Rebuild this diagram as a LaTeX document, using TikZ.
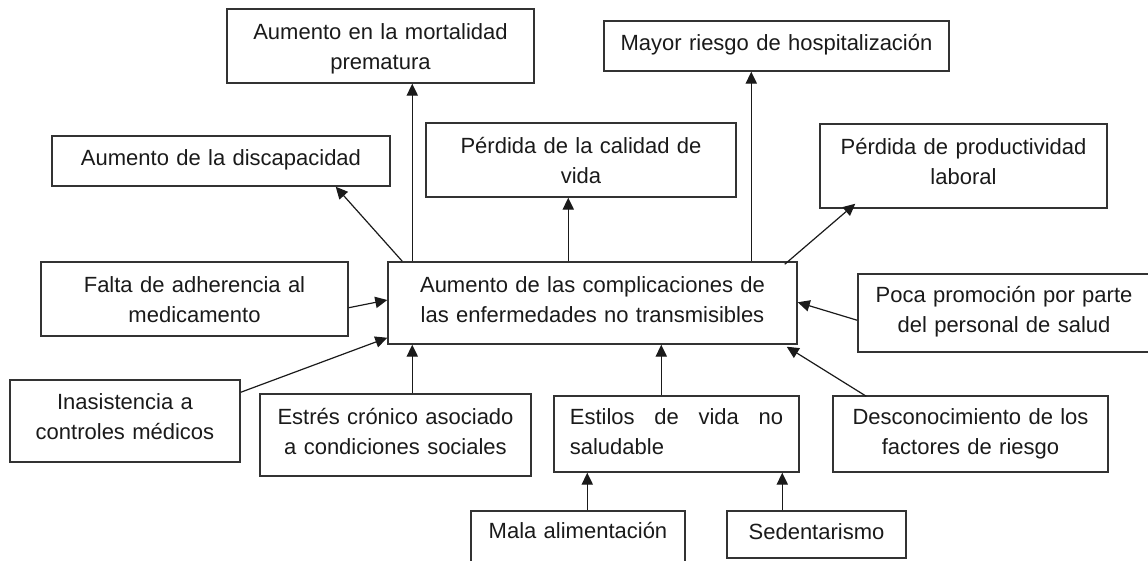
\documentclass[tikz,border=0pt]{standalone}
\usepackage{fontspec}
\setmainfont{Liberation Sans}
\usetikzlibrary{arrows.meta,calc}
\definecolor{ink}{HTML}{1A1A1A}
\definecolor{edge}{HTML}{333333}
\tikzset{
  box/.style={draw=edge, line width=1.1pt, inner sep=0pt, align=center,
    text=ink, font=\fontsize{16.5}{22.5}\selectfont},
  one/.style={text height=12pt, text depth=5pt},
  two/.style={text height=12pt, text depth=#1},
  two/.default=27.5pt,
  arr/.style={draw=ink, line width=0.9pt, -{Triangle[length=9pt,width=8.5pt]}}
}
\begin{document}
\begin{tikzpicture}[x=0.75pt,y=-0.75pt]
\useasboundingbox (0,0) rectangle (1148,560);
% effects
\node[box, two=22pt, text width=225pt, minimum width=230.25pt, minimum height=55.5pt] (mort) at (380.5,46) {Aumento en la mortalidad\\prematura};
\node[box, one, text width=249pt, minimum width=253.5pt, minimum height=37.5pt] (disc) at (221,161) {Aumento de la discapacidad};
\node[box, two=22pt, text width=228pt, minimum width=232.5pt, minimum height=55.5pt] (cal) at (581,160) {Pérdida de la calidad de\\vida};
\node[box, one, text width=254pt, minimum width=258.75pt, minimum height=37.5pt] (hosp) at (776.5,46) {Mayor riesgo de hospitalización};
\node[box, two=30pt, text width=210pt, minimum width=215.25pt, minimum height=63pt] (prod) at (963.5,166) {Pérdida de productividad\\laboral};
% central problem
\node[box, two, text width=302pt, minimum width=306.75pt, minimum height=61.5pt] (cen) at (592.5,303) {Aumento de las complicaciones de\\las enfermedades no transmisibles};
% causes
\node[box, two=22pt, text width=225pt, minimum width=230.25pt, minimum height=55.5pt] (falta) at (194.5,299) {Falta de adherencia al\\medicamento};
\node[box, two=30pt, text width=168pt, minimum width=172.5pt, minimum height=61.5pt] (ina) at (125,421) {Inasistencia a\\controles médicos};
\node[box, two, text width=198pt, minimum width=203.25pt, minimum height=61.5pt] (est) at (395.5,435) {Estrés crónico asociado\\a condiciones sociales};
\node[box, two=27pt, text width=160pt, align=justify, minimum width=183.75pt, minimum height=57pt] (vida) at (676.5,434) {Estilos\hfill de\hfill vida\hfill no\break saludable};
\node[box, two=26pt, text width=201pt, minimum width=206.25pt, minimum height=57pt] (desc) at (970.5,434) {Desconocimiento de los\\factores de riesgo};
\node[box, two, text width=214pt, minimum width=219pt, minimum height=58.5pt] (poca) at (1004,313) {Poca promoción por parte\\del personal de salud};
\node[box, text height=12pt, text depth=19.5pt, text width=155pt, minimum width=160.5pt, minimum height=48pt] (mala) at (578,543) {Mala alimentación};
\node[box, one, text width=130pt, minimum width=134.25pt, minimum height=35.25pt] (sed) at (816.5,534.5) {Sedentarismo};
% arrows from central problem to effects
\draw[arr] ($(cen.north west)+(25,0)$) -- ($(mort.south west)+(186,0)$);
\draw[arr] ($(cen.north west)+(15,0)$) -- ($(disc.south east)+(-55,0)$);
\draw[arr] ($(cen.north west)+(181,0)$) -- ($(cal.south west)+(143,0)$);
\draw[arr] ($(cen.north west)+(364,0)$) -- ($(hosp.south west)+(148,0)$);
\draw[arr] ($(cen.north east)+(-13,3)$) -- ($(prod.south west)+(36,-5)$);
% arrows from causes to central problem
\draw[arr] ($(falta.south east)+(0,-29)$) -- ($(cen.west)+(0,-3)$);
\draw[arr] ($(ina.north east)+(0,13)$) -- ($(cen.south west)+(0,-7)$);
\draw[arr] ($(est.north west)+(153,0)$) -- ($(cen.south west)+(25,0)$);
\draw[arr] ($(vida.north west)+(108,0)$) -- ($(cen.south west)+(274,0)$);
\draw[arr] ($(desc.north west)+(34,1)$) -- ($(cen.south east)+(-11,2)$);
\draw[arr] ($(poca.north west)+(0,47)$) -- ($(cen.north east)+(0,41)$);
\draw[arr] ($(mala.north west)+(117,0)$) -- ($(vida.south west)+(34,0)$);
\draw[arr] ($(sed.north west)+(56,0)$) -- ($(vida.south west)+(229,0)$);
\end{tikzpicture}
\end{document}
